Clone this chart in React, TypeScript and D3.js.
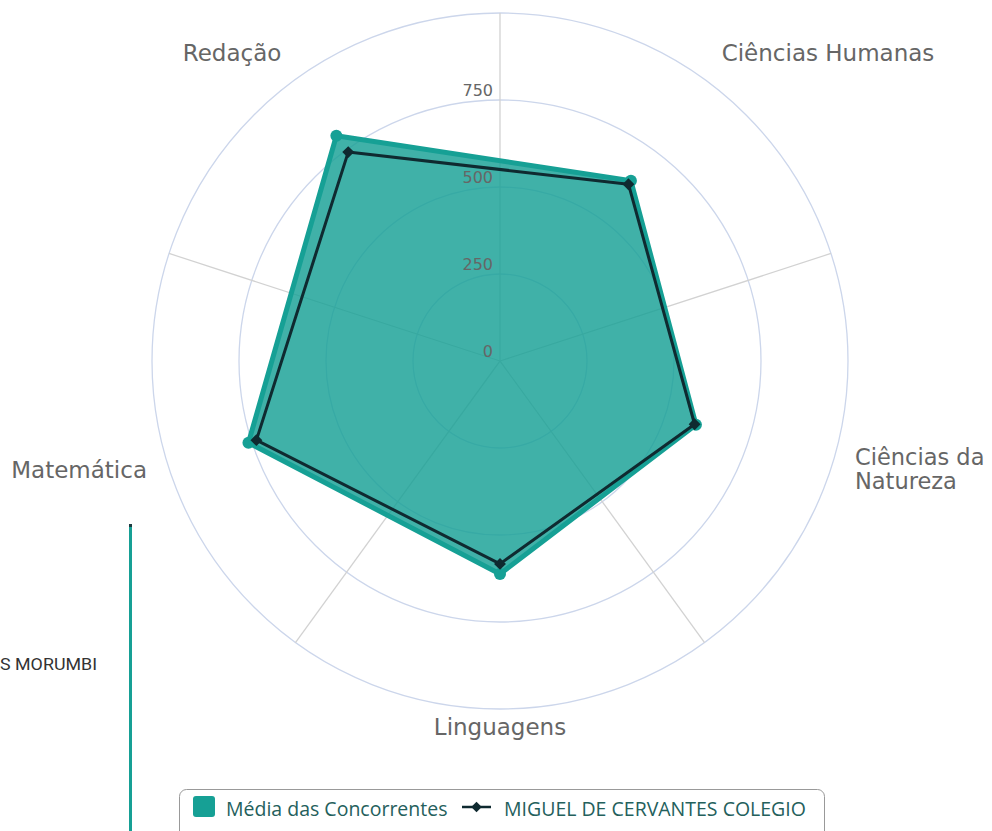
import React, { useEffect, useRef } from 'react'
import * as d3 from 'd3'

const categories = ['Ciências Humanas', 'Ciências da Natureza', 'Linguagens', 'Matemática', 'Redação']
const mediaConcorrentes = [640, 592, 612, 760, 800]
const miguelCervantes = [628, 588, 583, 736, 742]
const radialTicks = [0, 250, 500, 750]
const seriesNames = ['Média das Concorrentes', 'MIGUEL DE CERVANTES COLEGIO']

const W = 992
const H = 831
const cx = 500
const cy = 361
const R = 348
const TEAL = '#16a095'
const DARK = '#0f2a30'
const LABEL_FONT = '"DejaVu Sans", Verdana, sans-serif'
const LEGEND_FONT = '"Open Sans", sans-serif'

const App = () => {
  const ref = useRef<SVGSVGElement>(null)

  useEffect(() => {
    const svg = d3.select(ref.current)
    svg.selectAll('*').remove()

    const r = d3.scaleLinear().domain([0, 1000]).range([0, R])
    const n = categories.length
    const step = (2 * Math.PI) / n
    // points sit in the middle of each sector
    const angle = d3.scaleLinear().domain([0, n]).range([0, 2 * Math.PI])
    const ang = (i: number) => angle(i) + step / 2
    const px = (i: number, v: number) => cx + r(v) * Math.sin(ang(i))
    const py = (i: number, v: number) => cy - r(v) * Math.cos(ang(i))

    // stray pieces of a neighbouring chart
    svg.append('rect').attr('x', 129).attr('y', 524).attr('width', 3).attr('height', H - 524).attr('fill', TEAL)
    svg.append('rect').attr('x', 129).attr('y', 524).attr('width', 3).attr('height', 3).attr('fill', '#1d3d42')
    svg.append('text').attr('x', 0).attr('y', 670).attr('font-family', 'Roboto, sans-serif')
      .attr('font-size', 16.5).attr('fill', '#333')
      .attr('textLength', 97).attr('lengthAdjust', 'spacingAndGlyphs').text('S MORUMBI')

    const g = svg.append('g')

    // grid circles
    g.selectAll('.ring').data([...radialTicks.slice(1), 1000]).enter().append('circle')
      .attr('cx', cx).attr('cy', cy).attr('r', (d) => r(d))
      .attr('fill', 'none').attr('stroke', '#ccd6eb').attr('stroke-width', 1.3)

    // spokes at sector boundaries
    g.selectAll('.spoke').data(d3.range(n)).enter().append('line')
      .attr('x1', cx).attr('y1', cy)
      .attr('x2', (i) => cx + R * Math.sin(angle(i)))
      .attr('y2', (i) => cy - R * Math.cos(angle(i)))
      .attr('stroke', '#d2d2d2').attr('stroke-width', 1.3)

    const radial = d3.lineRadial<number>()
      .angle((_, i) => ang(i))
      .radius((d) => r(d))
      .curve(d3.curveLinearClosed)

    // area series
    g.append('path').attr('transform', `translate(${cx},${cy})`)
      .attr('d', radial(mediaConcorrentes))
      .attr('fill', TEAL).attr('fill-opacity', 0.82)
      .attr('stroke', TEAL).attr('stroke-width', 5).attr('stroke-linejoin', 'round')
    g.selectAll('.m1').data(mediaConcorrentes).enter().append('circle')
      .attr('cx', (d, i) => px(i, d)).attr('cy', (d, i) => py(i, d)).attr('r', 6).attr('fill', TEAL)

    // line series
    g.append('path').attr('transform', `translate(${cx},${cy})`)
      .attr('d', radial(miguelCervantes))
      .attr('fill', 'none').attr('stroke', DARK).attr('stroke-width', 3).attr('stroke-linejoin', 'round')
    const diamond = d3.symbol().type(d3.symbolDiamond2).size(90)
    g.selectAll('.m2').data(miguelCervantes).enter().append('path')
      .attr('transform', (d, i) => `translate(${px(i, d)},${py(i, d)})`)
      .attr('d', diamond()).attr('fill', DARK)

    // radial tick labels
    g.selectAll('.tick').data(radialTicks).enter().append('text')
      .attr('x', cx - 7).attr('y', (d) => cy - r(d) - 4)
      .attr('text-anchor', 'end').attr('font-family', LABEL_FONT).attr('font-size', 16)
      .attr('fill', '#666').text((d) => d)

    // category labels
    const labelPos = [
      { x: 828, y: 61, anchor: 'middle' },
      { x: 855, y: 465, anchor: 'start' },
      { x: 500, y: 735, anchor: 'middle' },
      { x: 147, y: 478, anchor: 'end' },
      { x: 232, y: 61, anchor: 'middle' },
    ]
    categories.forEach((c, i) => {
      const p = labelPos[i]
      const lines = c === 'Ciências da Natureza' ? ['Ciências da', 'Natureza'] : [c]
      const t = g.append('text').attr('x', p.x).attr('y', p.y).attr('text-anchor', p.anchor)
        .attr('font-family', LABEL_FONT).attr('font-size', lines.length > 1 ? 22.5 : 23).attr('fill', '#666')
      lines.forEach((ln, j) => {
        t.append('tspan').attr('x', p.x).attr('dy', j === 0 ? 0 : 24).text(ln)
      })
    })

    // legend
    const lg = svg.append('g')
    lg.append('rect').attr('x', 179.5).attr('y', 789.5).attr('width', 645).attr('height', 50).attr('rx', 7)
      .attr('fill', '#fff').attr('stroke', '#999').attr('stroke-width', 1)
    lg.append('rect').attr('x', 193).attr('y', 796).attr('width', 22).attr('height', 21).attr('rx', 3).attr('fill', TEAL)
    lg.append('text').attr('x', 226).attr('y', 816).attr('font-family', LEGEND_FONT).attr('font-size', 19.5)
      .attr('fill', '#24605c').text(seriesNames[0])
    lg.append('line').attr('x1', 462).attr('x2', 491).attr('y1', 807).attr('y2', 807)
      .attr('stroke', DARK).attr('stroke-width', 2.5)
    lg.append('path').attr('transform', 'translate(476.5,807)').attr('d', d3.symbol().type(d3.symbolDiamond2).size(70)())
      .attr('fill', DARK)
    lg.append('text').attr('x', 504).attr('y', 816).attr('font-family', LEGEND_FONT).attr('font-size', 19.5)
      .attr('fill', '#24605c').text(seriesNames[1])
  }, [])

  return (
    <svg ref={ref} width={W} height={H} style={{ position: 'absolute', left: 0, top: 0, background: '#fff' }} />
  )
}

export default App
